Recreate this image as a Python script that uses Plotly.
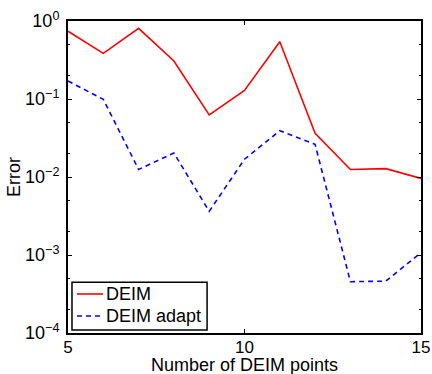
import plotly.graph_objects as go

n_points = [5, 6, 7, 8, 9, 10, 11, 12, 13, 14, 15]
deim_err = [0.74, 0.385, 0.805, 0.307, 0.0624, 0.129, 0.543, 0.0363, 0.0125, 0.0128, 0.0096]
deim_adapt_err = [0.170, 0.099, 0.0125, 0.0203, 0.00363, 0.0169, 0.0392, 0.0262, 0.000455, 0.000462, 0.00107]
series_names = ["DEIM", "DEIM adapt"]
series_colors = ["#ff0000", "#0000ff"]
series_dash = ["solid", "5px,4px"]

x_ticks = [5, 10, 15]
y_tickvals = [1e0, 1e-1, 1e-2, 1e-3, 1e-4]
y_ticktext = ["10<sup>0</sup>", "10<sup>\u22121</sup>", "10<sup>\u22122</sup>",
              "10<sup>\u22123</sup>", "10<sup>\u22124</sup>"]

font_family = "Liberation Sans, Arial, Helvetica, sans-serif"

fig = go.Figure()
for name, vals, col, dash in zip(series_names, [deim_err, deim_adapt_err], series_colors, series_dash):
    fig.add_trace(go.Scatter(x=n_points, y=vals, mode="lines", name=name,
                             line=dict(color=col, width=1.6, dash=dash)))

# Compact MATLAB-style legend drawn in paper coordinates
shapes = [dict(type="rect", xref="paper", yref="paper", x0=0.0113, x1=0.394, y0=0.0096, y1=0.163,
               line=dict(color="black", width=1.5), fillcolor="white", layer="above")]
annotations = []
for i, (name, col, dash) in enumerate(zip(series_names, series_colors, series_dash)):
    yy = [0.125, 0.0545][i]
    shapes.append(dict(type="line", xref="paper", yref="paper", x0=0.0255, x1=0.0992, y0=yy, y1=yy,
                       line=dict(color=col, width=1.6, dash=dash), layer="above"))
    annotations.append(dict(text=name, xref="paper", yref="paper", x=0.1076, y=yy,
                            xanchor="left", yanchor="middle", showarrow=False,
                            font=dict(size=18), xshift=-2))

annotations.append(dict(text="Number of DEIM points", xref="paper", yref="paper", x=0.5, y=0,
                        xanchor="center", yanchor="bottom", yshift=-43, showarrow=False,
                        borderpad=0, font=dict(size=18)))

fig.update_layout(
    width=432, height=374,
    margin=dict(l=68, r=11, t=21, b=41),
    paper_bgcolor="white", plot_bgcolor="white",
    font=dict(family=font_family, size=18, color="black"),
    showlegend=False,
    shapes=shapes,
    annotations=annotations,
    xaxis=dict(
        range=[5, 15], tickvals=x_ticks, ticktext=[str(v) for v in x_ticks],
        showline=True, linecolor="black", linewidth=2, mirror="allticks",
        ticks="inside", ticklen=4, tickwidth=1, tickcolor="black",
        showgrid=False, zeroline=False, automargin=False,
        tickfont=dict(size=17), ticklabelstandoff=-2,
    ),
    yaxis=dict(
        type="log", range=[-4, 0], tickvals=y_tickvals, ticktext=y_ticktext,
        showline=True, linecolor="black", linewidth=2, mirror="allticks",
        ticks="inside", ticklen=4, tickwidth=1, tickcolor="black",
        showgrid=False, zeroline=False, automargin=False,
        tickfont=dict(size=18), ticklabelstandoff=3,
        minor=dict(ticks="inside", ticklen=2, tickcolor="black", tickwidth=1,
                   showgrid=False, dtick="D2"),
        title=dict(text="Error", standoff=0, font=dict(size=18)),
    ),
)

fig.write_html("out.html")
